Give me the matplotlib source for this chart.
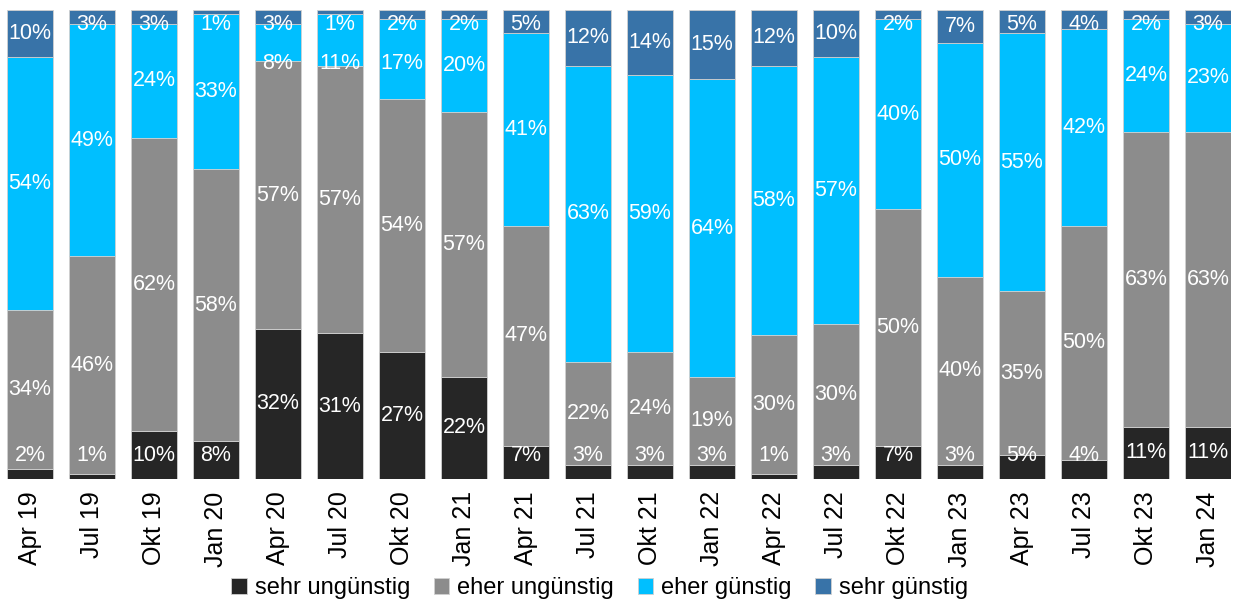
import matplotlib.pyplot as plt
import numpy as np

quartale = ["Apr 19", "Jul 19", "Okt 19", "Jan 20", "Apr 20", "Jul 20", "Okt 20",
            "Jan 21", "Apr 21", "Jul 21", "Okt 21", "Jan 22", "Apr 22", "Jul 22",
            "Okt 22", "Jan 23", "Apr 23", "Jul 23", "Okt 23", "Jan 24"]

sehr_unguenstig = [2, 1, 10, 8, 32, 31, 27, 22, 7, 3, 3, 3, 1, 3, 7, 3, 5, 4, 11, 11]
eher_unguenstig = [34, 46, 62, 58, 57, 57, 54, 57, 47, 22, 24, 19, 30, 30, 50, 40, 35, 50, 63, 63]
eher_guenstig = [54, 49, 24, 33, 8, 11, 17, 20, 41, 63, 59, 64, 58, 57, 40, 50, 55, 42, 24, 23]
sehr_guenstig = [10, 3, 3, 1, 3, 1, 2, 2, 5, 12, 14, 15, 12, 10, 2, 7, 5, 4, 2, 3]

serien = [sehr_unguenstig, eher_unguenstig, eher_guenstig, sehr_guenstig]
namen = ["sehr ungünstig", "eher ungünstig", "eher günstig", "sehr günstig"]
farben = ["#262626", "#8c8c8c", "#00bfff", "#3873a8"]

fig = plt.figure(figsize=(12.39, 6.13), dpi=100)
ax = fig.add_axes([0.0056, 0.219, 0.988, 0.765])

x = np.arange(len(quartale))
werte = np.array(serien, dtype=float)
summe = werte.sum(axis=0)
anteile = werte / summe * 100  # bars always fill to 100%

unten = np.zeros(len(quartale))
for k, (s, name, farbe, roh) in enumerate(zip(anteile, namen, farben, werte)):
    ax.bar(x, s, 0.742, bottom=unten, color=farbe, edgecolor="#d0d0d0",
           linewidth=0.6, label=name)
    for i in range(len(x)):
        y = unten[i] + s[i] / 2
        y = min(max(y, 5), 96.8)
        if k == 2:
            # keep clear of the label above
            y = min(y, 88.5)
        ax.text(x[i], y, "%d%%" % roh[i], ha="center", va="center",
                color="white", fontsize=15.5, family="Liberation Sans")
    unten += s

ax.set_xlim(-0.371, len(quartale) - 1 + 0.371)
ax.set_ylim(0, 100)
ax.set_yticks([])
ax.set_xticks(x)
ax.set_xticklabels(quartale, rotation=90, fontsize=18, family="Liberation Sans")
ax.tick_params(axis="x", length=0, pad=9)
for sp in ax.spines.values():
    sp.set_visible(False)

fig.legend(loc="lower center", bbox_to_anchor=(0.484, -0.012), ncol=4,
           frameon=False, handlelength=0.65, handleheight=0.65,
           handletextpad=0.35, columnspacing=1.0,
           prop={"family": "Liberation Sans", "size": 17})

fig.savefig("out.png", dpi=100)
